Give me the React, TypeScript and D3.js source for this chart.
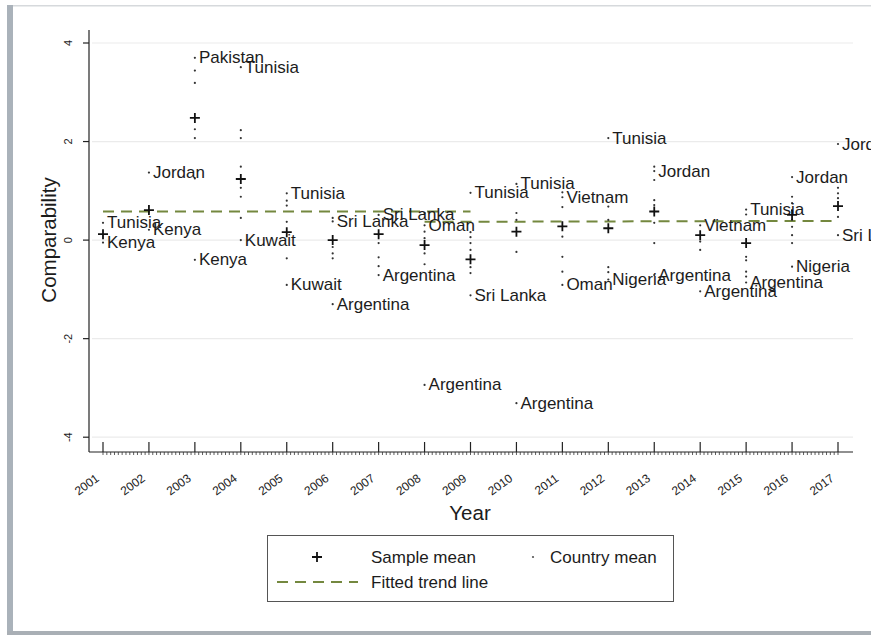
import React from "react";
import * as d3 from "d3";

const years = [2001, 2002, 2003, 2004, 2005, 2006, 2007, 2008, 2009, 2010, 2011, 2012, 2013, 2014, 2015, 2016, 2017];
const sampleMeans = [0.12, 0.61, 2.48, 1.24, 0.16, 0.0, 0.12, -0.1, -0.39, 0.17, 0.28, 0.24, 0.58, 0.1, -0.06, 0.51, 0.69];

const pointYears = [
  2001, 2001,
  2002, 2002,
  2003, 2003, 2003, 2003, 2003, 2003, 2003,
  2004, 2004, 2004, 2004, 2004, 2004, 2004, 2004,
  2005, 2005, 2005, 2005, 2005, 2005,
  2006, 2006, 2006, 2006, 2006, 2006,
  2007, 2007, 2007, 2007, 2007,
  2008, 2008, 2008, 2008, 2008, 2008, 2008,
  2009, 2009, 2009, 2009, 2009, 2009, 2009, 2009,
  2010, 2010, 2010, 2010, 2010,
  2011, 2011, 2011, 2011, 2011, 2011, 2011,
  2012, 2012, 2012, 2012, 2012, 2012,
  2013, 2013, 2013, 2013, 2013, 2013, 2013, 2013,
  2014, 2014, 2014, 2014,
  2015, 2015, 2015, 2015, 2015, 2015, 2015,
  2016, 2016, 2016, 2016, 2016, 2016, 2016, 2016, 2016,
  2017, 2017, 2017, 2017, 2017, 2017,
];
const pointValues = [
  0.35, -0.05,
  1.37, 0.21,
  3.7, 3.44, 3.19, 2.25, 2.07, 1.25, -0.4,
  3.51, 2.23, 2.07, 1.49, 1.06, 0.88, 0.45, 0.0,
  0.95, 0.8, 0.7, 0.37, -0.37, -0.91,
  0.45, 0.38, -0.14, -0.27, -0.37, -1.3,
  0.51, -0.06, -0.35, -0.53, -0.71,
  0.55, 0.3, 0.17, 0.04, -0.27, -0.49, -2.94,
  0.96, 0.16, 0.06, -0.06, -0.2, -0.55, -0.67, -1.12,
  1.14, 0.55, 0.41, -0.24, -3.31,
  0.97, 0.87, 0.67, 0.07, -0.34, -0.64, -0.91,
  2.07, 0.68, 0.41, -0.55, -0.65, -0.8,
  1.49, 1.4, 1.22, 0.81, 0.71, 0.35, -0.06, -0.71,
  0.3, -0.03, -0.2, -1.04,
  0.62, 0.52, -0.34, -0.41, -0.64, -0.74, -0.86,
  1.28, 0.88, 0.75, 0.61, 0.41, 0.27, 0.1, -0.06, -0.54,
  1.95, 1.06, 0.95, 0.85, 0.47, 0.1,
];
const pointLabels = [
  "Tunisia", "Kenya",
  "Jordan", "Kenya",
  "Pakistan", "", "", "", "", "", "Kenya",
  "Tunisia", "", "", "", "", "", "", "Kuwait",
  "Tunisia", "", "", "", "", "Kuwait",
  "", "Sri Lanka", "", "", "", "Argentina",
  "Sri Lanka", "", "", "", "Argentina",
  "", "Oman", "", "", "", "", "Argentina",
  "Tunisia", "", "", "", "", "", "", "Sri Lanka",
  "Tunisia", "", "", "", "Argentina",
  "", "Vietnam", "", "", "", "", "Oman",
  "Tunisia", "", "", "", "", "Nigeria",
  "", "Jordan", "", "", "", "", "", "Argentina",
  "Vietnam", "", "", "Argentina",
  "Tunisia", "", "", "", "", "", "Argentina",
  "Jordan", "", "", "", "", "", "", "", "Nigeria",
  "Jordan", "", "", "", "", "Sri Lanka",
];

const trendStartYears = [2001, 2008];
const trendEndYears = [2009, 2017];
const trendStartValues = [0.58, 0.37];
const trendEndValues = [0.58, 0.39];

const yTicks = [-4, -2, 0, 2, 4];

const FONT = "'Liberation Sans', Arial, Helvetica, sans-serif";
const TREND_COLOR = "#74883f";
const TEXT = "#1c1c1c";

export default function App() {
  const x = d3.scaleLinear().domain([2001, 2017]).range([103, 838]);
  const y = d3.scaleLinear().domain([-4, 4]).range([437.2, 43]);
  const axisY = 452;
  const axisX = 89;
  const plotRight = 853;

  const minorTicks = d3.range(2001, 2017.0001, 1 / 12);

  const plus = (cx: number, cy: number, s = 5) =>
    `M${cx - s},${cy}H${cx + s}M${cx},${cy - s}V${cy + s}`;

  return (
    <svg
      width={871}
      height={635}
      style={{ position: "absolute", left: 0, top: 0, background: "#fff" }}
      fontFamily={FONT}
    >
      <rect x={0} y={0} width={871} height={635} fill="#fff" />
      {/* frame */}
      <rect x={7} y={5} width={864} height={1.5} fill="#d6d9dc" />
      <rect x={7} y={5} width={6} height={630} fill="#aab2ba" />
      <rect x={7} y={631} width={864} height={4} fill="#a9afb5" />

      {/* grid */}
      {yTicks.map((t) => (
        <line key={"g" + t} x1={92} x2={plotRight} y1={y(t)} y2={y(t)} stroke="#ebebeb" strokeWidth={1.2} />
      ))}

      {/* y axis */}
      <line x1={axisX} x2={axisX} y1={30} y2={axisY} stroke="#222" strokeWidth={1.2} />
      {yTicks.map((t) => (
        <g key={"yt" + t}>
          <line x1={axisX - 6} x2={axisX} y1={y(t)} y2={y(t)} stroke="#222" strokeWidth={1.2} />
          <text
            transform={`translate(${68},${y(t)}) rotate(-90)`}
            textAnchor="middle"
            dominantBaseline="central"
            fontSize={11}
            fill={TEXT}
          >
            {t}
          </text>
        </g>
      ))}
      <text
        transform={`translate(48,240) rotate(-90)`}
        textAnchor="middle"
        dominantBaseline="central"
        fontSize={20.5}
        fill={TEXT}
      >
        Comparability
      </text>

      {/* x axis */}
      <line x1={axisX} x2={plotRight} y1={axisY} y2={axisY} stroke="#222" strokeWidth={1.2} />
      {minorTicks.map((t, i) => (
        <line key={"mt" + i} x1={x(t)} x2={x(t)} y1={axisY} y2={axisY + 3} stroke="#333" strokeWidth={0.8} />
      ))}
      {years.map((yr) => (
        <g key={"xt" + yr}>
          <line x1={x(yr)} x2={x(yr)} y1={axisY - 10} y2={axisY} stroke="#222" strokeWidth={1.2} />
          <text
            transform={`translate(${x(yr) - 3},${480}) rotate(-36)`}
            textAnchor="end"
            fontSize={12}
            fill={TEXT}
          >
            {yr}
          </text>
        </g>
      ))}
      <text x={470} y={512} textAnchor="middle" dominantBaseline="central" fontSize={20.5} fill={TEXT}>
        Year
      </text>

      {/* trend lines */}
      {trendStartYears.map((s, i) => (
        <line
          key={"tr" + i}
          x1={x(s)}
          x2={x(trendEndYears[i])}
          y1={y(trendStartValues[i])}
          y2={y(trendEndValues[i])}
          stroke={TREND_COLOR}
          strokeWidth={2}
          strokeDasharray="11,7"
        />
      ))}

      {/* country means */}
      {pointYears.map((yr, i) => (
        <circle key={"p" + i} cx={x(yr)} cy={y(pointValues[i])} r={1.1} fill="#333" />
      ))}
      {pointYears.map((yr, i) =>
        pointLabels[i] ? (
          <text
            key={"l" + i}
            x={x(yr) + 4}
            y={y(pointValues[i])}
            dominantBaseline="central"
            fontSize={17}
            fill={TEXT}
          >
            {pointLabels[i]}
          </text>
        ) : null
      )}

      {/* sample means */}
      {years.map((yr, i) => (
        <path key={"s" + yr} d={plus(x(yr), y(sampleMeans[i]))} stroke="#111" strokeWidth={1.8} fill="none" />
      ))}

      {/* legend */}
      <rect x={267.5} y={535.5} width={406} height={66} fill="#fff" stroke="#555" strokeWidth={1} />
      <path d={plus(317, 557)} stroke="#111" strokeWidth={1.8} fill="none" />
      <text x={371} y={557} dominantBaseline="central" fontSize={17} fill={TEXT}>
        Sample mean
      </text>
      <circle cx={533} cy={557} r={1.1} fill="#555" />
      <text x={550} y={557} dominantBaseline="central" fontSize={17} fill={TEXT}>
        Country mean
      </text>
      <line x1={277} x2={358} y1={582} y2={582} stroke={TREND_COLOR} strokeWidth={2} strokeDasharray="11,7" />
      <text x={371} y={582} dominantBaseline="central" fontSize={17} fill={TEXT}>
        Fitted trend line
      </text>
    </svg>
  );
}
